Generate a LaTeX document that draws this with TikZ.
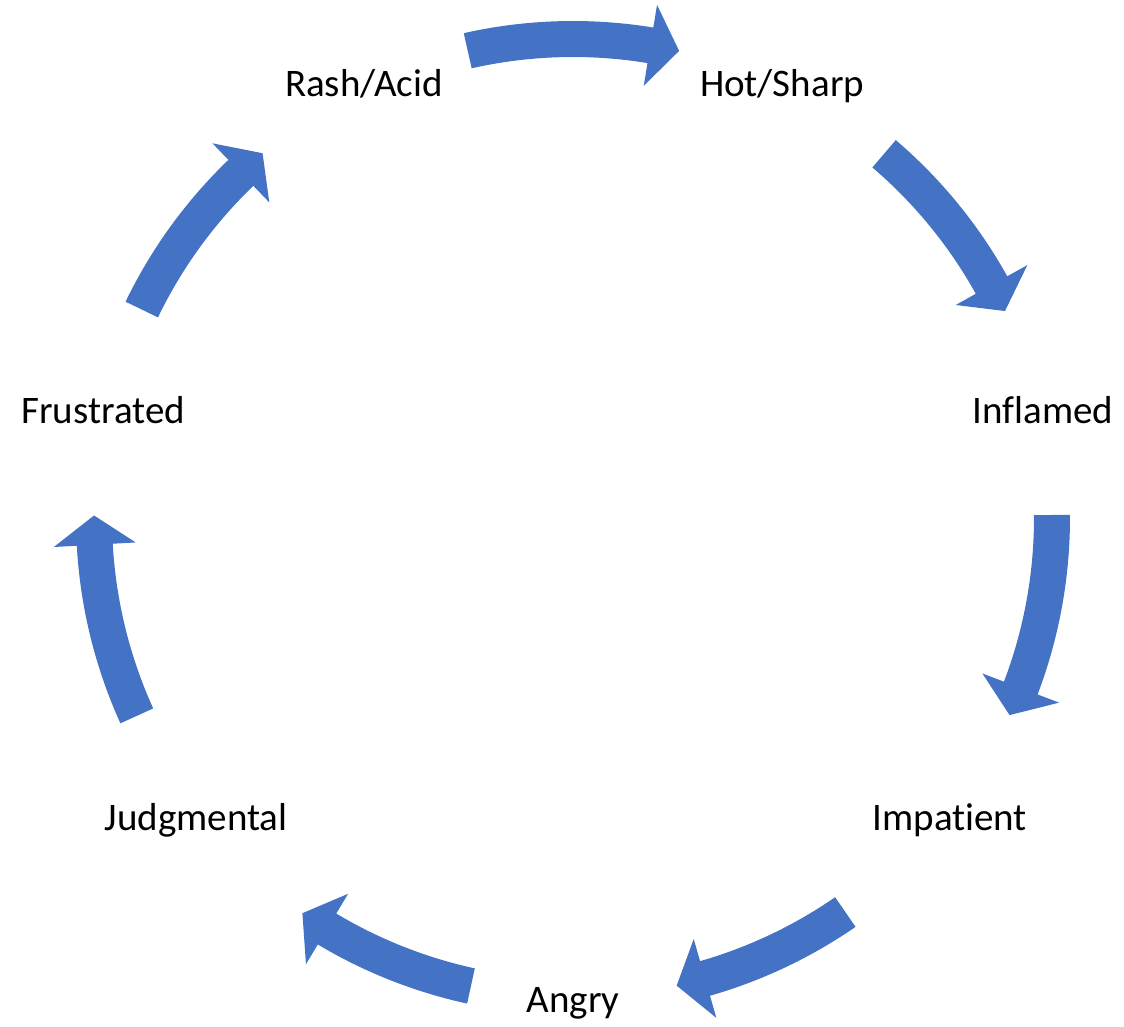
\documentclass[tikz,border=0pt]{standalone}
\usepackage{fontspec}
\setmainfont{Carlito}[Ligatures=CommonOff]
\definecolor{cycleblue}{RGB}{68,114,196}
\tikzset{
    steplabel/.style={font=\fontsize{39}{43}\selectfont, inner sep=0pt, text height=25pt, text depth=0pt},
    cyclearrow/.style={fill=cycleblue}
}
\begin{document}
\begin{tikzpicture}[x=1pt,y=1pt]
    \useasboundingbox(0,0) rectangle (1124,1026);
    \coordinate (c) at (573,508);
    % labels round the circle
    \foreach \a/\n/\t in {115.71/rash/{Rash/Acid}, 64.29/hot/{Hot/Sharp}, 12.86/inflamed/Inflamed, -38.57/impatient/Impatient, -90/angry/Angry, -141.43/judgmental/Judgmental, -192.86/frustrated/Frustrated}
    {
        \node[steplabel](\n) at ([shift={(\a:482pt)}]c){\t};
    }
    % arc arrows between the labels, clockwise: tail angle / head base angle
    \foreach \ta/\tb [evaluate=\tb as \te using \tb-3.5] in {102.7/80.7, 49.5/29.1, 0.36/-20.8, -55.35/-74.0, -102.3/-120.9, -155.6/-176.8, -205.8/-226.1}
    {
        \fill[cyclearrow]([shift={(\ta:497pt)}]c) arc[start angle=\ta, end angle=\tb, radius=497pt]
            --([shift={(\tb:520pt)}]c)--([shift={(\te:479pt)}]c)--([shift={(\tb:438pt)}]c)
            --([shift={(\tb:461pt)}]c) arc[start angle=\tb, end angle=\ta, radius=461pt]--cycle;
    }
\end{tikzpicture}
\end{document}
